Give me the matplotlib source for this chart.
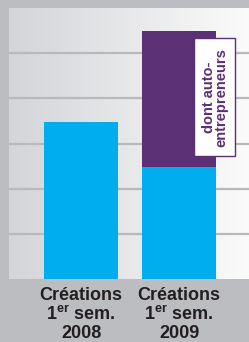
import numpy as np
import matplotlib.pyplot as plt
from matplotlib.colors import LinearSegmentedColormap
from matplotlib.patches import Rectangle

plt.rcParams['font.family'] = ['Liberation Sans', 'DejaVu Sans']
plt.rcParams['mathtext.fontset'] = 'custom'
plt.rcParams['mathtext.rm'] = 'Liberation Sans:bold'
plt.rcParams['mathtext.bf'] = 'Liberation Sans:bold'

categories = ["Créations\n1$^{\\mathbf{er}}$ sem.\n2008", "Créations\n1$^{\\mathbf{er}}$ sem.\n2009"]
classiques = [3.47, 2.48]
auto_entrepreneurs = [0.0, 3.01]

blue = "#00adef"
purple = "#5c3075"
dark = "#231f20"

fig = plt.figure(figsize=(2.49, 3.42), dpi=100)
fig.patch.set_facecolor("#bcbdc1")
ax = fig.add_axes([9 / 249, 63 / 342, 240 / 249, 271 / 342])

x = np.arange(len(categories))
xmin, xmax = -0.735, 1.714
ax.set_xlim(xmin, xmax)
ax.set_ylim(0, 6)

# fond en degrade gris -> blanc
grad = np.linspace(0, 1, 256).reshape(1, -1)
cmap = LinearSegmentedColormap.from_list("g", ["#d4d5d9", "#fbfbfb"])
ax.imshow(grad, cmap=cmap, extent=[xmin, xmax, 0, 6], aspect="auto", zorder=0)

for y in range(1, 6):
    ax.axhline(y, color="#b8b9bd", linewidth=1.6, zorder=1)

ax.bar(x, classiques, width=0.755, color=blue, zorder=2)
ax.bar(x, auto_entrepreneurs, bottom=classiques, width=0.755, color=purple, zorder=2)

for s in ax.spines.values():
    s.set_visible(False)
ax.set_xticks([])
ax.set_yticks([])

# encadre "dont auto-entrepreneurs"
ax.add_patch(Rectangle((1.156, 2.72), 0.415, 2.62, facecolor="white",
                       edgecolor=purple, linewidth=1.0, zorder=3))
ax.text(1.37, 4.02, "dont auto-\nentrepreneurs", rotation=90, ha="center", va="center",
        color=purple, fontsize=10.5, fontweight="bold", linespacing=0.85, zorder=4)

for xi, lab in zip(x, categories):
    ax.text(xi, -0.17, lab, ha="center", va="top", color=dark, fontsize=13,
            fontweight="bold", linespacing=1.08)

fig.savefig("out.png", dpi=100, facecolor=fig.get_facecolor())
